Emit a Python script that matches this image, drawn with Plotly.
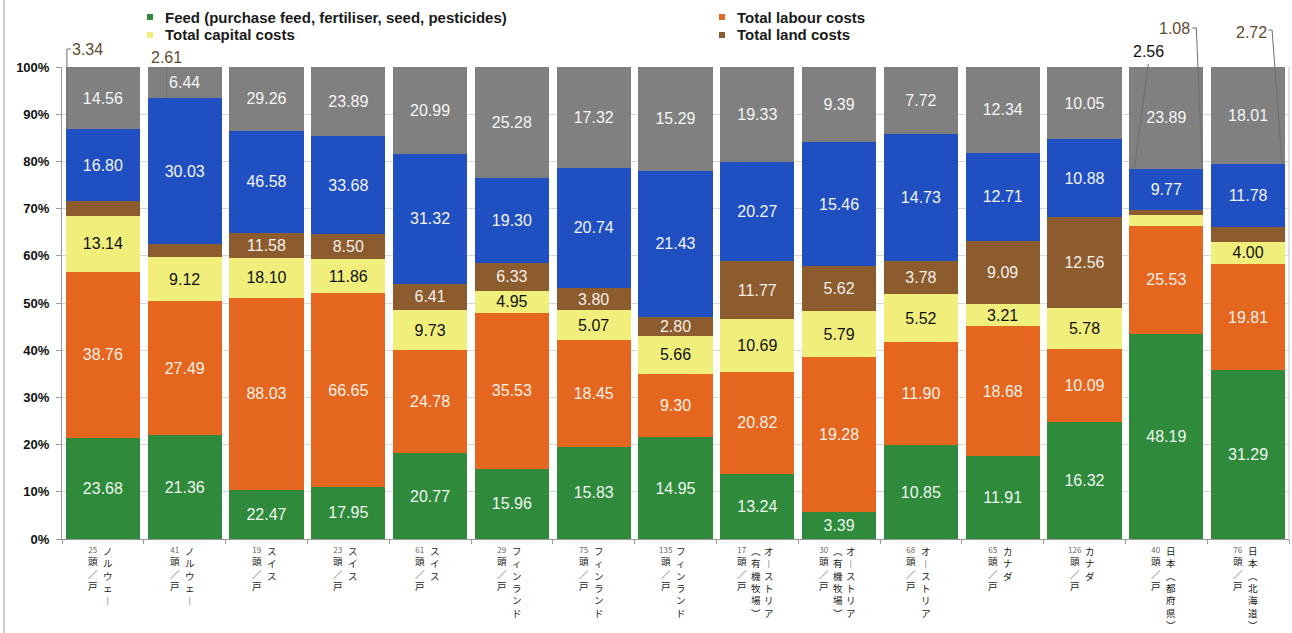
import plotly.graph_objects as go

# ---- data -------------------------------------------------------------
names_main = ["ノルウェー", "ノルウェー", "スイス", "スイス", "スイス",
              "フィンランド", "フィンランド", "フィンランド",
              "オーストリア", "オーストリア", "オーストリア",
              "カナダ", "カナダ", "日本（都府県）", "日本（北海道）"]
names_sub = ["", "", "", "", "", "", "", "",
             "（有機牧場）", "（有機牧場）", "", "", "", "", ""]
herd_sizes = [25, 41, 19, 23, 61, 29, 75, 135, 17, 30, 68, 65, 126, 40, 76]

feed = [23.68, 21.36, 22.47, 17.95, 20.77, 15.96, 15.83, 14.95, 13.24, 3.39, 10.85, 11.91, 16.32, 48.19, 31.29]
labour = [38.76, 27.49, 88.03, 66.65, 24.78, 35.53, 18.45, 9.30, 20.82, 19.28, 11.90, 18.68, 10.09, 25.53, 19.81]
capital = [13.14, 9.12, 18.10, 11.86, 9.73, 4.95, 5.07, 5.66, 10.69, 5.79, 5.52, 3.21, 5.78, 2.56, 4.00]
land = [3.34, 2.61, 11.58, 8.50, 6.41, 6.33, 3.80, 2.80, 11.77, 5.62, 3.78, 9.09, 12.56, 1.08, 2.72]
other_costs_1 = [16.80, 30.03, 46.58, 33.68, 31.32, 19.30, 20.74, 21.43, 20.27, 15.46, 14.73, 12.71, 10.88, 9.77, 11.78]
other_costs_2 = [14.56, 6.44, 29.26, 23.89, 20.99, 25.28, 17.32, 15.29, 19.33, 9.39, 7.72, 12.34, 10.05, 23.89, 18.01]

y_ticks = [0, 10, 20, 30, 40, 50, 60, 70, 80, 90, 100]
y_tick_labels = [f"{v}%" for v in y_ticks]

# ---- styling ------------------------------------------------------------
W, H = 1292, 633
M_L, M_R, M_T, M_B = 62, 3, 67, 94
PW, PH = W - M_L - M_R, H - M_T - M_B
N = len(herd_sizes)
categories = [f"{m}{s} {h}頭／戸" for m, s, h in zip(names_main, names_sub, herd_sizes)]

series = [
    ("Feed (purchase feed, fertiliser, seed, pesticides)", feed, "#2f8a3c", "#eef7ee"),
    ("Total labour costs", labour, "#e5661f", "#fdf0e6"),
    ("Total capital costs", capital, "#f1ef7c", "#111111"),
    ("Total land costs", land, "#8c5c2e", "#f6efe8"),
    ("Other costs 1", other_costs_1, "#1f4fc0", "#f2f4fb"),
    ("Other costs 2", other_costs_2, "#808080", "#f5f5f5"),
]

# segments whose values are written above the bar, with a leader line:
# (series index, bar index, label offset from bar centre in px, label y px,
#  leader points as (dx px, y px or None for the segment edge), text colour)
outside = [
    (3, 0, -15, 50, [(-32, 49), (-36, 49), (-36, None)], "#614a2e"),
    (3, 1, -18, 57, [(-18, 67), (-18, None)], "#614a2e"),
    (2, 13, -18, 52, [(-18, 64), (-32, None)], "#111111"),
    (3, 13, 8, 28, [(26, 28), (30, 28), (36, None)], "#614a2e"),
    (3, 14, 3, 32, [(20, 30), (24, 30), (34, None)], "#614a2e"),
]
outside_keys = {(s, b) for s, b, *_ in outside}

fig = go.Figure()
for si, (name, vals, color, tcolor) in enumerate(series):
    texts = ["" if (si, bi) in outside_keys else f"{v:.2f}" for bi, v in enumerate(vals)]
    fig.add_trace(go.Bar(
        x=categories, y=vals, name=name,
        marker=dict(color=color, line=dict(width=0)),
        text=texts, textposition="inside", insidetextanchor="middle",
        textangle=0, constraintext="none",
        textfont=dict(family="Arial, Liberation Sans", size=16, color=tcolor),
        hoverinfo="skip", showlegend=False,
    ))

totals = [sum(v) for v in zip(feed, labour, capital, land, other_costs_1, other_costs_2)]
blue_top = [100 * (t - g) / t for t, g in zip(totals, other_costs_2)]


def px_x(bi, dx=0):
    return (bi + 0.5) / N + dx / PW


def px_y(py):
    return (M_T + PH - py) / PH


shapes = []
annotations = []

# labels written above the bars and their leader lines
for si, bi, lx, ly, pts, tcol in outside:
    val = series[si][1][bi]
    annotations.append(dict(
        xref="paper", yref="paper", x=px_x(bi, lx), y=px_y(ly),
        text=f"{val:.2f}", showarrow=False, xanchor="center", yanchor="middle",
        font=dict(family="Arial, Liberation Sans", size=16, color=tcol)))
    coords = [(px_x(bi, dx), px_y(py) if py is not None else blue_top[bi] / 100) for dx, py in pts]
    path = "M " + " L ".join(f"{x},{y}" for x, y in coords)
    shapes.append(dict(type="path", xref="paper", yref="paper", path=path,
                       line=dict(color="#6f6f6f", width=1)))

# vertical category labels: one stacked column of characters per text line
vertical_forms = {"ー": "︱", "（": "︵", "）": "︶"}
CJK = "Noto Sans CJK JP"


def column(bi, dx, lines, top_px, size=9.5):
    annotations.append(dict(
        xref="paper", yref="paper", x=px_x(bi), xshift=dx,
        y=0, yshift=-(top_px - (M_T + PH)),
        text="<br>".join(lines), showarrow=False, borderpad=0,
        xanchor="center", yanchor="top", align="center",
        font=dict(family=CJK, size=size, color="#1a1a1a")))


for bi in range(N):
    if names_sub[bi]:
        off_herd, off_sub, off_main = -15, -1, 12
    else:
        off_herd, off_sub, off_main = -10, None, 5
    herd_lines = [f'<span style="font-size:8px;color:#666666">{herd_sizes[bi]}</span>', "頭", "／", "戸"]
    column(bi, off_herd, herd_lines, 543)
    if off_sub is not None:
        column(bi, off_sub, [vertical_forms.get(c, c) for c in names_sub[bi]], 543)
    column(bi, off_main, [vertical_forms.get(c, c) for c in names_main[bi]], 543)

# legend
legend_items = [(0, 150, 17), (1, 722, 17), (2, 150, 35), (3, 722, 35)]
for si, lx, ly in legend_items:
    name, _, color, _ = series[si]
    shapes.append(dict(type="rect", xref="paper", yref="paper",
                       x0=(lx - 3 - M_L) / PW, x1=(lx + 3 - M_L) / PW,
                       y0=px_y(ly + 3), y1=px_y(ly - 3),
                       fillcolor=color, line=dict(width=0)))
    annotations.append(dict(
        xref="paper", yref="paper", x=(lx + 13 - M_L) / PW, y=px_y(ly),
        text=name, showarrow=False, xanchor="left", yanchor="middle",
        font=dict(family="Arial, Liberation Sans", size=15, color="#1a1a1a", weight="bold")))

# outer frame and right plot border
shapes.append(dict(type="line", xref="paper", yref="paper",
                   x0=(4 - M_L) / PW, x1=(4 - M_L) / PW, y0=px_y(H + 5), y1=px_y(-5),
                   line=dict(color="#9a9a9a", width=1)))
shapes.append(dict(type="line", xref="paper", yref="paper",
                   x0=1, x1=1, y0=0, y1=1, line=dict(color="#c8c0c4", width=1)))

fig.update_layout(
    width=W, height=H,
    margin=dict(l=M_L, r=M_R, t=M_T, b=M_B),
    barmode="stack", barnorm="percent", bargap=0.095,
    plot_bgcolor="white", paper_bgcolor="white",
    showlegend=False,
    uniformtext=dict(mode="show", minsize=16),
    shapes=shapes, annotations=annotations,
    xaxis=dict(type="category", categoryorder="array", categoryarray=categories,
               range=[-0.5, N - 0.5], showticklabels=False,
               ticks="outside", tickson="boundaries", ticklen=4, tickcolor="#9a9a9a",
               showline=True, linecolor="#9a9a9a", linewidth=1, showgrid=False),
    yaxis=dict(range=[0, 100], tickvals=y_ticks, ticktext=y_tick_labels,
               tickfont=dict(family="Arial, Liberation Sans", size=13, color="#111111", weight="bold"),
               ticks="outside", ticklen=5, tickcolor="#9a9a9a", ticklabelstandoff=4,
               showline=True, linecolor="#9a9a9a", linewidth=1,
               showgrid=True, gridcolor="#d9d9d9", zeroline=False),
)

fig.write_html("out.html")
